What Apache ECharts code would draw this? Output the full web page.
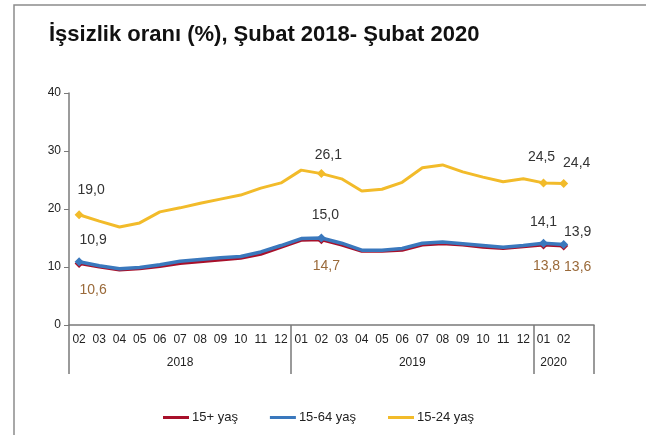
<!DOCTYPE html>
<html>
<head>
<meta charset="utf-8">
<script src="https://cdn.jsdelivr.net/npm/echarts@6/dist/echarts.min.js"></script>
<style>
	html, body { margin: 0; padding: 0; background: #fff; }
	#chart { width: 646px; height: 435px; }
</style>
</head>
<body>
<div id="chart"></div>
<script>
var months = ['02', '03', '04', '05', '06', '07', '08', '09', '10', '11', '12',
	'01', '02', '03', '04', '05', '06', '07', '08', '09', '10', '11', '12',
	'01', '02'];
var years = ['2018', '2019', '2020'];
var monthsPerYear = [11, 12, 2];
var yTicks = [0, 10, 20, 30, 40];

var all15 = [10.6, 10.0, 9.5, 9.7, 10.1, 10.6, 10.9, 11.2, 11.5, 12.2, 13.4, 14.6,
	14.7, 13.8, 12.7, 12.7, 12.9, 13.8, 14.0, 13.8, 13.4, 13.2, 13.5, 13.8, 13.6];
var age1564 = [10.9, 10.2, 9.7, 9.9, 10.4, 11.0, 11.3, 11.6, 11.8, 12.6, 13.7, 14.9,
	15.0, 14.1, 12.9, 12.9, 13.2, 14.1, 14.3, 14.0, 13.7, 13.4, 13.7, 14.1, 13.9];
var age1524 = [19.0, 17.9, 16.9, 17.6, 19.5, 20.2, 21.0, 21.7, 22.4, 23.6, 24.5, 26.7,
	26.1, 25.2, 23.1, 23.4, 24.6, 27.1, 27.6, 26.4, 25.5, 24.7, 25.2, 24.5, 24.4];

var labeled = [0, 12, 23, 24];

// etiket kaydırmaları (nokta merkezine göre)
var offsRed = {0: [14, 27], 12: [5, 26], 23: [3, 21], 24: [14, 21]};
var offsBlue = {0: [14, -22], 12: [4, -23], 23: [0, -21], 24: [14, -12]};
var offsYellow = {0: [12, -25], 12: [7, -18], 23: [-2, -26], 24: [13, -20]};

// yıl sınırları
var bounds = [0];
var centers = [];
var acc = 0;
for (var i = 0; i < monthsPerYear.length; i++) {
	centers.push(acc + monthsPerYear[i] / 2);
	acc += monthsPerYear[i];
	bounds.push(acc);
}
bounds[bounds.length - 1] = acc + 1;
centers[centers.length - 1] = acc - monthsPerYear[monthsPerYear.length - 1] / 2;

function fmt(v) {
	return v.toFixed(1).replace('.', ',');
}

function buildData(arr, offs, color) {
	return arr.map(function(v, i) {
		if (labeled.indexOf(i) < 0) {
			return {value: v, symbolSize: 0};
		}
		return {
			value: v,
			symbolSize: 9,
			label: {
				show: true,
				position: 'inside',
				offset: offs[i],
				color: color,
				fontSize: 14,
				fontFamily: 'Liberation Sans, Arial, sans-serif',
				formatter: function(p) { return fmt(p.value); }
			}
		};
	});
}

var chart = echarts.init(document.getElementById('chart'));

var option = {
	backgroundColor: '#fff',
	animation: false,
	title: {
		text: 'İşsizlik oranı (%), Şubat 2018- Şubat 2020',
		left: 44,
		top: 19,
		textStyle: {
			fontFamily: 'Liberation Sans, Arial, sans-serif',
			fontWeight: 'bold',
			fontSize: 22,
			color: '#111'
		}
	},
	graphic: [{
		type: 'rect',
		shape: {x: 14, y: 5, width: 700, height: 500},
		style: {fill: 'none', stroke: '#8c8c8c', lineWidth: 1.5},
		silent: true
	}],
	legend: {
		data: ['15+ yaş', '15-64 yaş', '15-24 yaş'],
		left: 158,
		bottom: 6,
		icon: 'rect',
		itemWidth: 26,
		itemHeight: 3,
		itemGap: 32,
		textStyle: {
			fontFamily: 'Liberation Sans, Arial, sans-serif',
			fontSize: 13,
			color: '#222',
			padding: [0, 0, 0, -2]
		}
	},
	grid: {
		left: 69,
		right: 52,
		top: 93,
		bottom: 110
	},
	xAxis: [{
		type: 'category',
		data: months,
		max: months.length,
		boundaryGap: true,
		axisTick: {show: false},
		axisLine: {lineStyle: {color: '#7a7a7a', width: 1.5}},
		axisLabel: {
			interval: 0,
			margin: 9,
			color: '#222',
			fontSize: 12,
			fontFamily: 'Liberation Sans, Arial, sans-serif',
			formatter: function(v) { return v == null ? '' : v; }
		},
		splitLine: {show: false}
	}, {
		type: 'value',
		position: 'bottom',
		min: 0,
		max: months.length + 1,
		axisLine: {show: false},
		splitLine: {show: false},
		axisTick: {
			show: true,
			customValues: bounds,
			length: 49,
			lineStyle: {color: '#7a7a7a', width: 1.5}
		},
		axisLabel: {
			show: true,
			customValues: centers,
			margin: 32,
			color: '#222',
			fontSize: 12,
			fontFamily: 'Liberation Sans, Arial, sans-serif',
			formatter: function(v) {
				for (var i = 0; i < centers.length; i++) {
					if (Math.abs(centers[i] - v) < 0.01) return years[i];
				}
				return '';
			}
		}
	}],
	yAxis: {
		type: 'value',
		min: yTicks[0],
		max: yTicks[yTicks.length - 1],
		interval: 10,
		axisLine: {show: true, lineStyle: {color: '#7a7a7a', width: 1.5}},
		axisTick: {show: true, length: 5, lineStyle: {color: '#7a7a7a'}},
		axisLabel: {
			margin: 8,
			color: '#222',
			fontSize: 12,
			fontFamily: 'Liberation Sans, Arial, sans-serif'
		},
		splitLine: {show: false}
	},
	series: [{
		name: '15+ yaş',
		type: 'line',
		data: buildData(all15, offsRed, '#9a6a3a'),
		color: '#a8102a',
		symbol: 'diamond',
		showAllSymbol: true,
		lineStyle: {width: 3},
		z: 2
	}, {
		name: '15-64 yaş',
		type: 'line',
		data: buildData(age1564, offsBlue, '#333'),
		color: '#3a78bd',
		symbol: 'diamond',
		showAllSymbol: true,
		lineStyle: {width: 3.5},
		z: 3
	}, {
		name: '15-24 yaş',
		type: 'line',
		data: buildData(age1524, offsYellow, '#333'),
		color: '#f2bb2a',
		symbol: 'diamond',
		showAllSymbol: true,
		lineStyle: {width: 3},
		z: 4
	}]
};
chart.setOption(option);
</script>
</body>
</html>
